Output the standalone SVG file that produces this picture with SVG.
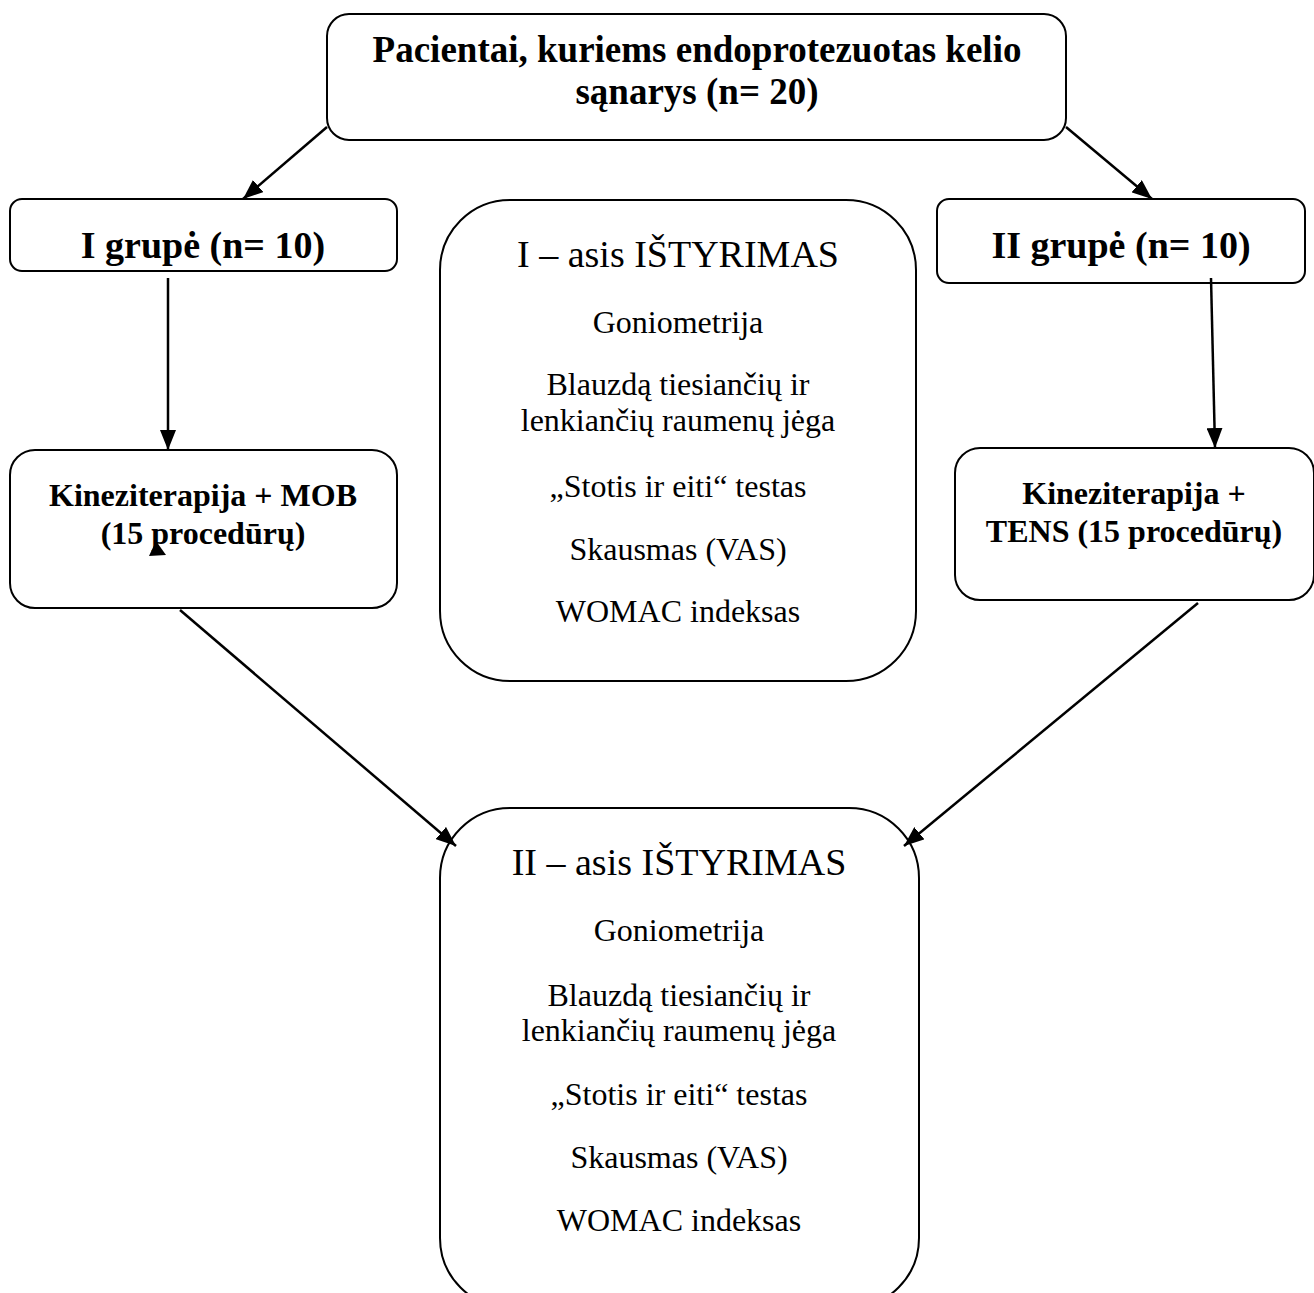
<svg xmlns="http://www.w3.org/2000/svg" width="1314" height="1293" viewBox="0 0 1314 1293">
<style>
.box{fill:#fff;stroke:#000;stroke-width:2}
.b{font-family:"Liberation Serif","Times New Roman",serif;font-weight:bold;fill:#000;text-anchor:middle}
.r{font-family:"Liberation Serif","Times New Roman",serif;fill:#000;text-anchor:middle}
.c{stroke:#000;stroke-width:2.5;fill:none;marker-end:url(#ah)}
</style>
<defs>
<marker id="ah" viewBox="0 0 10 10" refX="10" refY="5" markerWidth="20" markerHeight="16" markerUnits="userSpaceOnUse" orient="auto" preserveAspectRatio="none">
<path d="M0,0 L10,5 L0,10 z" fill="#000"/>
</marker>
</defs>
<rect width="1314" height="1293" fill="#fff"/>
<g id="top">
<rect class="box" x="327" y="14" width="739" height="126" rx="22"/>
<text class="b" x="697" y="62" font-size="37">Pacientai, kuriems endoprotezuotas kelio</text>
<text class="b" x="697" y="104" font-size="37">sąnarys (n= 20)</text>
</g>
<g id="g1">
<rect class="box" x="10" y="199" width="387" height="72" rx="12"/>
<text class="b" x="203" y="258" font-size="38">I grupė (n= 10)</text>
</g>
<g id="g2">
<rect class="box" x="937" y="199" width="368" height="84" rx="12"/>
<text class="b" x="1121" y="258" font-size="38">II grupė (n= 10)</text>
</g>
<g id="t1">
<rect class="box" x="440" y="200" width="476" height="481" rx="70"/>
<text class="r" x="678" y="267" font-size="38">I – asis IŠTYRIMAS</text>
<text class="r" x="678" y="333" font-size="32">Goniometrija</text>
<text class="r" x="678" y="395" font-size="32">Blauzdą tiesiančių ir</text>
<text class="r" x="678" y="431" font-size="32">lenkiančių raumenų jėga</text>
<text class="r" x="678" y="497" font-size="32">„Stotis ir eiti“ testas</text>
<text class="r" x="678" y="560" font-size="32">Skausmas (VAS)</text>
<text class="r" x="678" y="622" font-size="32">WOMAC indeksas</text>
</g>
<g id="k1">
<rect class="box" x="10" y="450" width="387" height="158" rx="25"/>
<text class="b" x="203" y="506" font-size="32">Kineziterapija + MOB</text>
<text class="b" x="203" y="544" font-size="32">(15 procedūrų)</text>
</g>
<g id="k2">
<rect class="box" x="955" y="448" width="359" height="152" rx="25"/>
<text class="b" x="1134" y="504" font-size="32">Kineziterapija +</text>
<text class="b" x="1134" y="542" font-size="32">TENS (15 procedūrų)</text>
</g>
<g id="t2">
<rect class="box" x="440" y="808" width="479" height="500" rx="70"/>
<text class="r" x="679" y="875" font-size="38">II – asis IŠTYRIMAS</text>
<text class="r" x="679" y="941" font-size="32">Goniometrija</text>
<text class="r" x="679" y="1006" font-size="32">Blauzdą tiesiančių ir</text>
<text class="r" x="679" y="1041" font-size="32">lenkiančių raumenų jėga</text>
<text class="r" x="679" y="1105" font-size="32">„Stotis ir eiti“ testas</text>
<text class="r" x="679" y="1168" font-size="32">Skausmas (VAS)</text>
<text class="r" x="679" y="1231" font-size="32">WOMAC indeksas</text>
</g>
<g id="connectors">
<line class="c" x1="327" y1="127" x2="243" y2="199"/>
<line class="c" x1="1066" y1="127" x2="1152" y2="199"/>
<line class="c" x1="168" y1="278" x2="168" y2="450"/>
<line class="c" x1="1211" y1="278" x2="1215" y2="448"/>
<line class="c" x1="180" y1="610" x2="456" y2="846"/>
<line class="c" x1="1198" y1="603" x2="904" y2="846"/>
<polygon points="156,541 149,556 166,555" fill="#000"/>
</g>
</svg>
